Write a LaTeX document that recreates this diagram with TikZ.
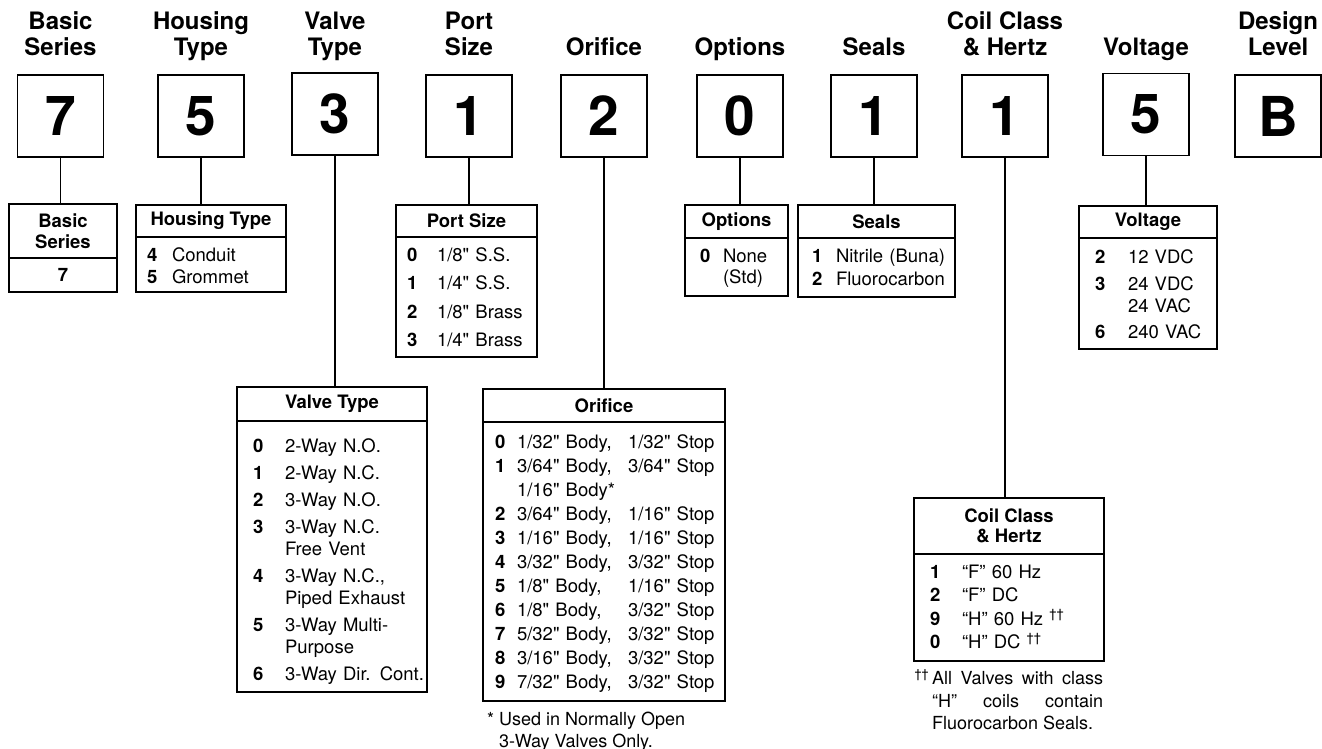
\documentclass[tikz,border=0pt]{standalone}
\usepackage{fontspec}
\setmainfont{TeX Gyre Heros}[Ligatures=TeXOff]
\usepackage{array}
\usetikzlibrary{positioning}
\tikzset{
  code-hdr/.style={font=\bfseries\fontsize{24}{26}\selectfont,align=center,
    inner sep=0pt,text depth=0pt},
  code-box/.style={draw,line width=1.9pt,minimum width=86pt,minimum height=82pt,
    inner sep=0pt,font=\bfseries\fontsize{55}{60}\selectfont},
  tab-title/.style={draw,line width=1.9pt,anchor=north,inner sep=0pt,outer sep=0pt,
    align=center,font=\bfseries\fontsize{18.5}{21}\selectfont},
  tab-body/.style={draw,line width=1.9pt,inner sep=0pt,outer sep=0pt,align=left,
    font=\fontsize{18.5}{#1}\selectfont},
  conn/.style={line width=1.8pt},
}
% number column + text column, left pad #1, number column #2
\newcommand{\codelist}[3]{\begin{tabular}[t]{@{\hspace{#1}}>{\bfseries}p{#2}@{}l@{}}#3\end{tabular}}

\begin{document}
\begin{tikzpicture}[x=1pt,y=-1pt]
  \useasboundingbox (0,0) rectangle (1322,749);

  % code digits
  \node[code-box] (dBasic)   at (60.5,116) {7};
  \node[code-box] (dHousing) at (201,116)  {5};
  \node[code-box] (dValve)   at (335,114)  {3};
  \node[code-box] (dPort)    at (469,116)  {1};
  \node[code-box] (dOrif)    at (604,116)  {2};
  \node[code-box] (dOpt)     at (740,116)  {0};
  \node[code-box] (dSeals)   at (874,116)  {1};
  \node[code-box] (dCoil)    at (1005,116) {1};
  \node[code-box] (dVolt)    at (1146,114.5) {5};
  \node[code-box] (dDesign)  at (1278,116) {B};

  % headings
  \node[code-hdr,above=18pt of dBasic]   (hBasic)   {Basic\\Series};
  \node[code-hdr,above=18pt of dHousing] (hHousing) {Housing\\Type};
  \node[code-hdr,above=16pt of dValve]   (hValve)   {Valve\\Type};
  \node[code-hdr,above=18pt of dPort]    (hPort)    {Port\\Size};
  \node[code-hdr,above=18pt of dOrif]    (hOrif)    {Orifice};
  \node[code-hdr,above=18pt of dOpt]     (hOpt)     {Options};
  \node[code-hdr,above=18pt of dSeals]   (hSeals)   {Seals};
  \node[code-hdr,above=18pt of dCoil]    (hCoil)    {Coil Class\\\& Hertz};
  \node[code-hdr,above=16.5pt of dVolt]  (hVolt)    {Voltage};
  \node[code-hdr,above=18pt of dDesign]  (hDesign)  {Design\\Level};

  % tables
  \node[tab-title,minimum width=108pt,minimum height=54pt] (tBasic) at (63,204) {Basic\\Series};
  \node[tab-body=21,below=0pt of tBasic,text width=108pt,align=center,minimum height=34pt]
    (bBasic) {\bfseries 7};

  \node[tab-title,minimum width=150pt,minimum height=32pt] (tHousing) at (211,205) {Housing Type};
  \node[tab-body=22,below=0pt of tHousing,text width=150pt,text height=24.5pt,text depth=30.5pt]
    (bHousing) {\codelist{11pt}{25pt}{4 & Conduit\\ 5 & Grommet}};

  \node[tab-title,minimum width=141pt,minimum height=32pt] (tPort) at (466.5,205) {Port Size};
  \node[tab-body=28.3,below=0pt of tPort,text width=141pt,text height=24.5pt,text depth=95.5pt]
    (bPort) {\codelist{11pt}{30pt}{0 & 1/8" S.S.\\ 1 & 1/4" S.S.\\ 2 & 1/8" Brass\\ 3 & 1/4" Brass}};

  \node[tab-title,minimum width=103pt,minimum height=33pt] (tOpt) at (736.5,205) {Options};
  \node[tab-body=21,below=0pt of tOpt,text width=103pt,text height=24.5pt,text depth=33.5pt]
    (bOpt) {\codelist{15pt}{23pt}{0 & None\\ & (Std)}};

  \node[tab-title,minimum width=157pt,minimum height=33pt] (tSeals) at (876.5,205) {Seals};
  \node[tab-body=23,below=0pt of tSeals,text width=157pt,text height=24.5pt,text depth=34.5pt]
    (bSeals) {\codelist{14pt}{24pt}{1 & Nitrile (Buna)\\ 2 & Fluorocarbon}};

  \node[tab-title,minimum width=138pt,minimum height=32pt] (tVolt) at (1148,206) {Voltage};
  \node[tab-body=22,below=0pt of tVolt,text width=138pt,text height=25.5pt,text depth=85.5pt]
    (bVolt) {\codelist{16pt}{33pt}{2 & 12 VDC\\[4.5pt] 3 & 24 VDC\\ & 24 VAC\\[4.5pt] 6 & 240 VAC}};

  \node[tab-title,minimum width=190pt,minimum height=34pt] (tValve) at (332,387) {Valve Type};
  \node[tab-body=22,below=0pt of tValve,text width=190pt,text height=31.5pt,text depth=239.5pt]
    (bValve) {\codelist{16pt}{32pt}{0 & 2-Way N.O.\\[5pt] 1 & 2-Way N.C.\\[5pt] 2 & 3-Way N.O.\\[5pt]
      3 & 3-Way N.C.\\ & Free Vent\\[5pt] 4 & 3-Way N.C.,\\ & Piped Exhaust\\[5pt]
      5 & 3-Way Multi-\\ & Purpose\\[5pt] 6 & 3-Way Dir. Cont.}};

  \node[tab-title,minimum width=242pt,minimum height=33pt] (tOrif) at (604,389) {Orifice};
  \node[tab-body=24,below=0pt of tOrif,text width=242pt,text height=26.5pt,text depth=252.5pt]
    (bOrif) {\begin{tabular}[t]{@{\hspace{12pt}}>{\bfseries}p{22pt}@{}p{111pt}@{}l@{}}
      0 & 1/32" Body, & 1/32" Stop\\ 1 & 3/64" Body, & 3/64" Stop\\ & 1/16" Body* & \\
      2 & 3/64" Body, & 1/16" Stop\\ 3 & 1/16" Body, & 1/16" Stop\\ 4 & 3/32" Body, & 3/32" Stop\\
      5 & 1/8" Body, & 1/16" Stop\\ 6 & 1/8" Body, & 3/32" Stop\\ 7 & 5/32" Body, & 3/32" Stop\\
      8 & 3/16" Body, & 3/32" Stop\\ 9 & 7/32" Body, & 3/32" Stop\end{tabular}};

  \node[tab-title,minimum width=190pt,minimum height=56pt,font=\bfseries\fontsize{18.5}{20}\selectfont]
    (tCoil) at (1009,498) {Coil Class\\\& Hertz};
  \node[tab-body=23.3,below=0pt of tCoil,text width=190pt,text height=24.5pt,text depth=82.5pt]
    (bCoil) {\codelist{16pt}{32pt}{1 & “F” 60 Hz\\ 2 & “F” DC\\ 9 & “H” 60 Hz \textsuperscript{††}\\
      0 & “H” DC \textsuperscript{††}}};

  % footnotes
  \node[anchor=base west,inner sep=0pt,font=\fontsize{18}{21.5}\selectfont] (nOrif)
    at ([xshift=4pt,yshift=-24.5pt]bOrif.south west)
    {\begin{tabular}[t]{@{}p{12pt}@{}l@{}}* & Used in Normally Open\\ & 3-Way Valves Only.\end{tabular}};
  \node[anchor=base west,inner sep=0pt,font=\fontsize{18}{22.5}\selectfont] (nCoil)
    at ([xshift=18pt,yshift=-23.5pt]bCoil.south west)
    {\parbox[t]{171pt}{\leavevmode\llap{\textsuperscript{††}\,}All Valves with class\linebreak
      “H” coils contain\linebreak Fluorocarbon Seals.}};

  % connectors
  \draw[conn] (dBasic.south)   -- (dBasic.south |- tBasic.north);
  \draw[conn] (dHousing.south) -- (dHousing.south |- tHousing.north);
  \draw[conn] (dValve.south)   -- (dValve.south |- tValve.north);
  \draw[conn] (dPort.south)    -- (dPort.south |- tPort.north);
  \draw[conn] (dOrif.south)    -- (dOrif.south |- tOrif.north);
  \draw[conn] (dOpt.south)     -- (dOpt.south |- tOpt.north);
  \draw[conn] (dSeals.south)   -- (dSeals.south |- tSeals.north);
  \draw[conn] (dCoil.south)    -- (dCoil.south |- tCoil.north);
  \draw[conn] (dVolt.south)    -- (dVolt.south |- tVolt.north);
\end{tikzpicture}
\end{document}
